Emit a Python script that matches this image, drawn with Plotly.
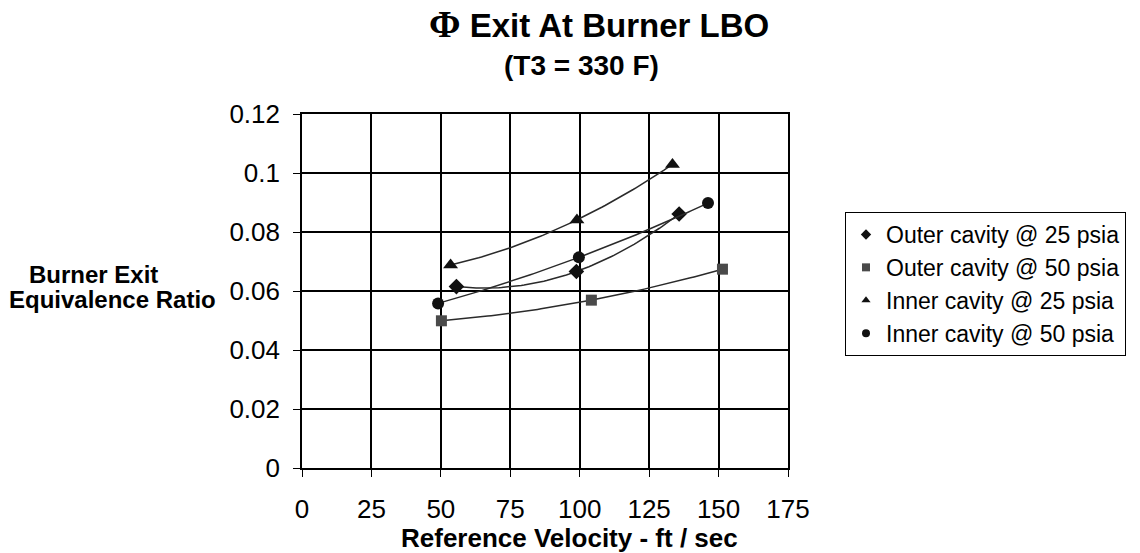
import numpy as np
import plotly.graph_objects as go

# ---- data ----
outer25_x = [55.6, 98.8, 135.8]
outer25_y = [0.0615, 0.0666, 0.0861]
outer50_x = [50.2, 104.2, 151.4]
outer50_y = [0.0499, 0.0569, 0.0674]
inner25_x = [53.5, 99.0, 133.4]
inner25_y = [0.0688, 0.0841, 0.1029]
inner50_x = [49.0, 99.7, 146.2]
inner50_y = [0.0558, 0.0714, 0.0898]

series_names = ["Outer cavity @ 25 psia", "Outer cavity @ 50 psia",
                "Inner cavity @ 25 psia", "Inner cavity @ 50 psia"]
x_ticks = [0, 25, 50, 75, 100, 125, 150, 175]
y_ticks = [0, 0.02, 0.04, 0.06, 0.08, 0.1, 0.12]

series = [
    (series_names[0], outer25_x, outer25_y, "diamond", "#111111", 12),
    (series_names[1], outer50_x, outer50_y, "square", "#4a4a4a", 11),
    (series_names[2], inner25_x, inner25_y, "triangle-up", "#111111", 13),
    (series_names[3], inner50_x, inner50_y, "circle", "#111111", 12),
]

FONT = "Liberation Sans, Arial, sans-serif"
fig = go.Figure()

for name, xs, ys, sym, col, sz in series:
    # 2nd order polynomial trendline (as in the original spreadsheet chart)
    coef = np.polyfit(xs, ys, 2)
    tx = np.linspace(min(xs), max(xs), 80)
    fig.add_trace(go.Scatter(x=tx, y=np.polyval(coef, tx), mode="lines",
                             line=dict(color="#2a2a2a", width=1.5),
                             showlegend=False, hoverinfo="skip"))
    fig.add_trace(go.Scatter(x=xs, y=ys, mode="markers", name=name,
                             marker=dict(symbol=sym, size=sz, color=col),
                             showlegend=False))
    # legend entry with small marker
    fig.add_trace(go.Scatter(x=[None], y=[None], mode="markers", name=name,
                             marker=dict(symbol=sym, size=8, color=col)))

W, H = 1140, 553
L, R, T, B = 302, 788, 114, 468
fig.update_layout(
    width=W, height=H,
    margin=dict(l=L, r=W - R, t=T, b=H - B, pad=0),
    paper_bgcolor="white", plot_bgcolor="white",
    font=dict(family=FONT, color="black", size=22),
    showlegend=True,
    legend=dict(x=(845 - L) / (R - L), y=(B - 212) / (B - T),
                xanchor="left", yanchor="top",
                bordercolor="black", borderwidth=1, bgcolor="white",
                font=dict(size=23, family=FONT), itemwidth=30,
                tracegroupgap=0),
)
fig.update_xaxes(range=[0, 175], tickvals=x_ticks, ticks="outside", ticklen=7,
                 tickcolor="black", showgrid=True, gridcolor="black", gridwidth=1.6,
                 showline=True, linecolor="black", linewidth=1.6, mirror=True,
                 zeroline=False, tickfont=dict(size=26), ticklabelstandoff=10)
fig.update_yaxes(range=[0, 0.12], tickvals=y_ticks, ticks="outside", ticklen=7,
                 tickcolor="black", showgrid=True, gridcolor="black", gridwidth=1.6,
                 showline=True, linecolor="black", linewidth=1.6, mirror=True,
                 zeroline=False, tickfont=dict(size=26), ticklabelstandoff=8)

def px_x(p):
    return (p - L) / (R - L)

def px_y(p):
    return (B - p) / (B - T)

fig.add_annotation(x=px_x(599), y=px_y(24), xref="paper", yref="paper",
                   showarrow=False, xanchor="center", yanchor="middle",
                   text="<b><span style='font-family:Liberation Serif, serif;font-size:38px'>Φ</span> Exit At Burner LBO</b>",
                   font=dict(size=33, family=FONT))
fig.add_annotation(x=px_x(581), y=px_y(65), xref="paper", yref="paper",
                   showarrow=False, xanchor="center", yanchor="middle",
                   text="<b>(T3 = 330 F)</b>", font=dict(size=28, family=FONT))
fig.add_annotation(x=px_x(569), y=px_y(538), xref="paper", yref="paper",
                   showarrow=False, xanchor="center", yanchor="middle",
                   text="<b>Reference Velocity - ft / sec</b>", font=dict(size=26, family=FONT))
fig.add_annotation(x=px_x(93), y=px_y(274), xref="paper", yref="paper",
                   showarrow=False, xanchor="center", yanchor="middle",
                   text="<b>Burner Exit</b>", font=dict(size=24, family=FONT))
fig.add_annotation(x=px_x(112), y=px_y(299), xref="paper", yref="paper",
                   showarrow=False, xanchor="center", yanchor="middle",
                   text="<b>Equivalence Ratio</b>", font=dict(size=24, family=FONT))

fig.write_html("out.html", config={"displayModeBar": False},
               post_script="document.body.style.margin='0px';")
